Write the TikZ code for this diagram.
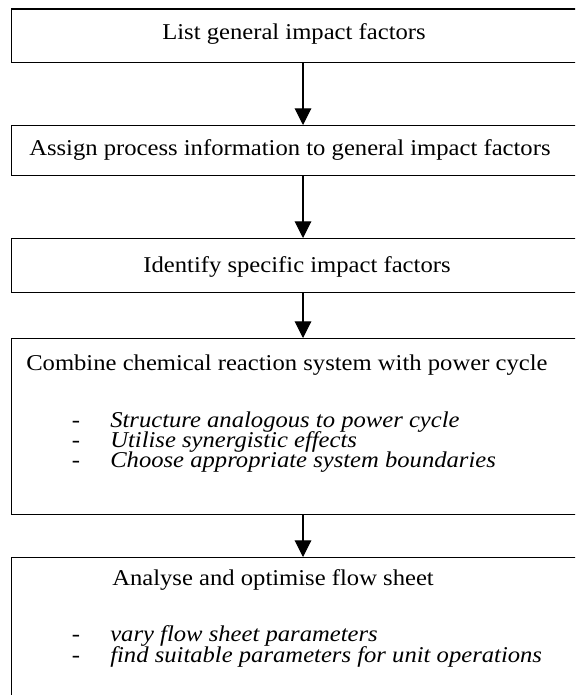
\documentclass[tikz,border=0pt]{standalone}
\usepackage{fontspec}
\setmainfont[FakeStretch=1.09]{Liberation Serif}
\usetikzlibrary{arrows.meta,positioning}

\begin{document}
\begin{tikzpicture}[x=0.75pt, y=-0.75pt, font=\fontsize{16.95}{20}\selectfont,
  stepbox/.style={draw, line width=1.1pt, anchor=north west, minimum width=457pt, inner sep=0pt},
  steptext/.style={inner sep=0pt},
  dashmark/.style={inner sep=0pt, anchor=base, text height=11pt, text depth=2.5pt},
  itemtext/.style={inner sep=0pt, anchor=base west, text height=11pt, text depth=2.5pt, font=\fontsize{16.95}{20}\selectfont\itshape},
  flowarrow/.style={-{Triangle[length=12.5pt, width=12.5pt]}, line width=0.8pt}]
\useasboundingbox (0,0) rectangle (575,695);
\clip (0,0) rectangle (575,695);
% boxes (they run past the right and bottom edge)
\node[stepbox, minimum height=40.1pt] (list) at (10.5,8.5) {};
\node[stepbox, minimum height=37.5pt] (assign) at (10.5,125) {};
\node[stepbox, minimum height=40.5pt] (identify) at (10.5,238) {};
\node[stepbox, minimum height=132pt] (combine) at (10.5,338) {};
\node[stepbox, minimum height=130pt] (analyse) at (10.5,557) {};
% box texts
\node[steptext, anchor=base] (listtext) at (294,40) {List general impact factors};
\node[steptext, anchor=base west] (assigntext) at (29,156) {Assign process information to general impact factors};
\node[steptext, anchor=base] (identifytext) at (297,272.5) {Identify specific impact factors};
\node[steptext, anchor=base west] (combinetext) at (26,370) {Combine chemical reaction system with power cycle};
\foreach \y/\txt [count=\i] in {427/Structure analogous to power cycle, 447/Utilise synergistic effects, 467/Choose appropriate system boundaries} {
  \node[dashmark] (cdash\i) at (76,\y) {-};
  \node[itemtext] (citem\i) at (110,\y) {\txt};
}
\node[steptext, anchor=base west] (analysetext) at (112,585) {Analyse and optimise flow sheet};
\foreach \y/\txt [count=\i] in {641/vary flow sheet parameters, 662/find suitable parameters for unit operations} {
  \node[dashmark] (adash\i) at (76,\y) {-};
  \node[itemtext] (aitem\i) at (110,\y) {\txt};
}
% arrows
\coordinate (axis) at (303,0);
\draw[flowarrow] (list.south -| axis) -- (assign.north -| axis);
\draw[flowarrow] (assign.south -| axis) -- (identify.north -| axis);
\draw[flowarrow] (identify.south -| axis) -- (combine.north -| axis);
\draw[flowarrow] (combine.south -| axis) -- (analyse.north -| axis);
\end{tikzpicture}
\end{document}
